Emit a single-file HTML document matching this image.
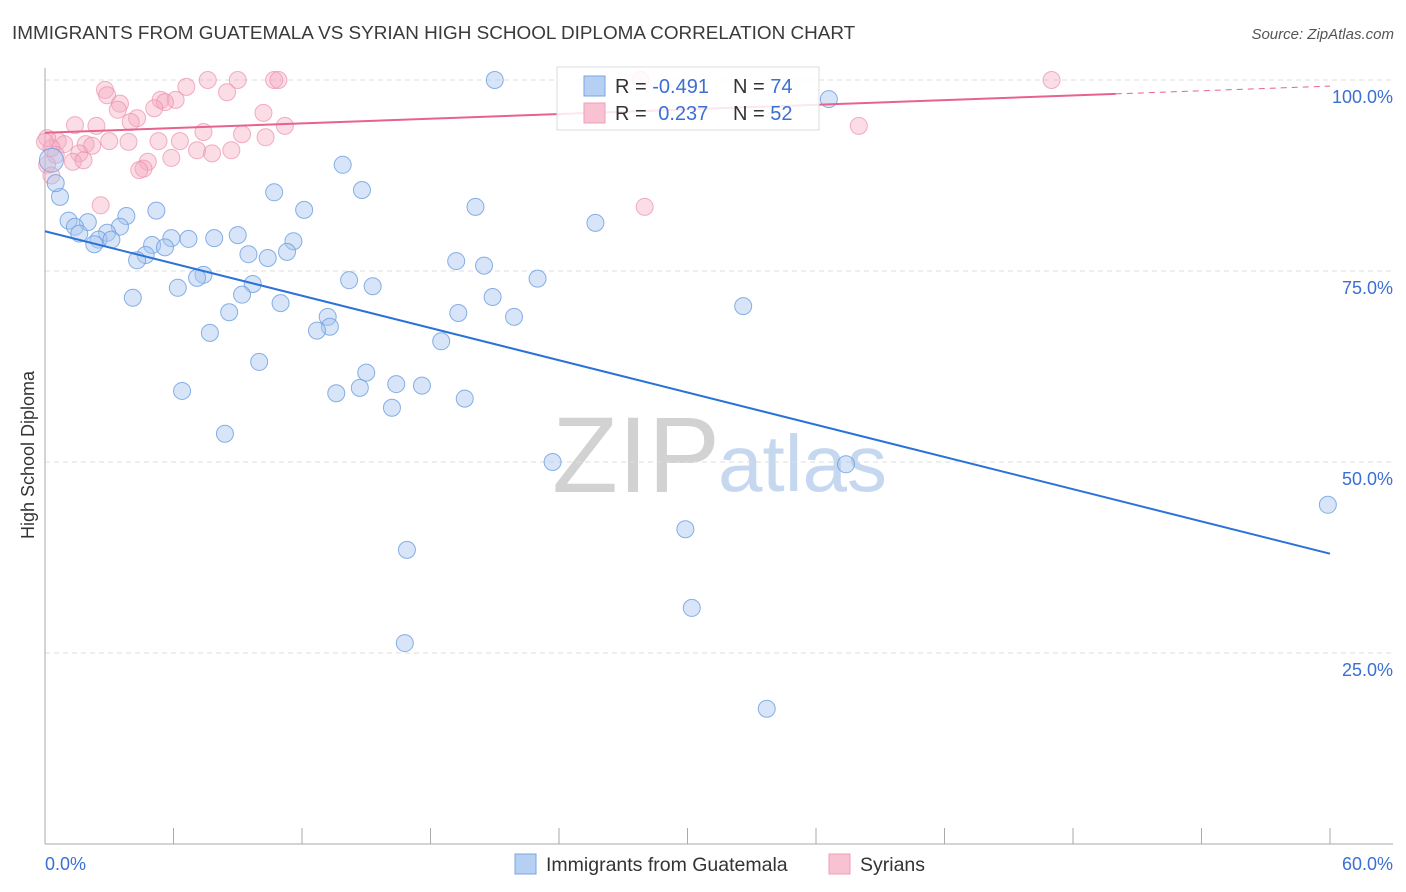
<!DOCTYPE html>
<html><head><meta charset="utf-8">
<style>
body{margin:0;background:#fff;font-family:"Liberation Sans",sans-serif;}
#wrap{position:relative;width:1406px;height:892px;overflow:hidden;}
svg text{font-family:"Liberation Sans",sans-serif;}
</style></head>
<body>
<div id="wrap">
<svg id="svg" width="1406" height="892">
<text x="12" y="39" font-size="18.9" fill="#3a3a3a">IMMIGRANTS FROM GUATEMALA VS SYRIAN HIGH SCHOOL DIPLOMA CORRELATION CHART</text>
<text x="1394" y="39" font-size="15" fill="#555" font-style="italic" text-anchor="end">Source: ZipAtlas.com</text>
<g>
<text x="552" y="492" font-size="108" font-family="Liberation Serif" fill="#d2d2d2">ZIP</text>
<text x="718" y="491" font-size="80" fill="#c5d8f0">atlas</text>
</g>
<g id="grid"></g>
<g id="axes"></g>
<g id="pinkPts"></g>
<g id="bluePts"></g>
<g id="lines"></g>
<text transform="translate(34,455) rotate(-90)" font-size="18" fill="#333" text-anchor="middle">High School Diploma</text>
<g>
<rect x="557" y="67" width="262" height="63" fill="#fff" fill-opacity="0.85" stroke="#ddd"/>
<rect x="584" y="76" width="21" height="20" fill="#b6d0f3" stroke="#7aa6e0"/>
<rect x="584" y="103" width="21" height="20" fill="#f8c2d2" stroke="#ef9fb8"/>
<text x="615" y="93" font-size="20" fill="#333">R = <tspan fill="#3b6fd4">-0.491</tspan></text>
<text x="733" y="93" font-size="20" fill="#333">N = <tspan fill="#3b6fd4">74</tspan></text>
<text x="615" y="120" font-size="20" fill="#333">R = <tspan fill="#3b6fd4" dx="6">0.237</tspan></text>
<text x="733" y="120" font-size="20" fill="#333">N = <tspan fill="#3b6fd4">52</tspan></text>
</g>
<g>
<rect x="515" y="854" width="21" height="20" fill="#b6d0f3" stroke="#7aa6e0"/>
<text x="546" y="871" font-size="19.5" fill="#333">Immigrants from Guatemala</text>
<rect x="829" y="854" width="21" height="20" fill="#f8c2d2" stroke="#ef9fb8"/>
<text x="860" y="871" font-size="19.5" fill="#333">Syrians</text>
</g>
</svg>
</div>
<script>
const xTickLabels=["0.0%","60.0%"];
const yTicks=[100,75,50,25];
const yTickLabels=["100.0%","75.0%","50.0%","25.0%"];
const blueX=[21.0,36.6,13.9,14.8,10.7,20.1,12.1,5.2,3.8,1.1,2.0,1.4,3.5,25.7,1.6,2.9,9.0,7.9,5.9,6.7,11.6,2.5,3.1,2.3,5.0,5.6,4.7,11.3,9.5,10.4,4.3,19.2,20.5,23.0,14.2,15.3,7.4,7.1,9.7,6.2,9.2,4.1,20.9,11.0,32.6,8.6,19.3,21.9,13.2,13.3,12.7,7.7,18.5,10.0,15.0,16.4,17.6,14.7,13.6,6.4,19.6,16.2,8.4,23.7,37.4,59.9,29.9,16.9,30.2,16.8,33.7,0.7,0.5,0.3];
const blueY=[100.0,97.5,88.9,85.6,85.3,83.4,83.0,82.9,82.2,81.6,81.4,80.8,80.8,81.3,79.9,80.0,79.7,79.3,79.3,79.2,78.9,79.1,79.1,78.5,78.4,78.1,77.1,77.5,77.2,76.7,76.4,76.3,75.7,74.0,73.8,73.0,74.5,74.1,73.3,72.8,71.9,71.5,71.6,70.8,70.4,69.6,69.5,69.0,69.0,67.7,67.2,66.9,65.8,63.1,61.7,60.2,60.0,59.7,59.0,59.3,58.3,57.1,53.7,50.0,49.7,44.4,41.2,38.5,30.9,26.3,17.7,84.7,86.5,89.5];
const pinkX=[27.8,47.0,7.6,9.0,10.7,10.9,6.6,2.8,2.9,8.5,5.4,6.1,5.6,3.5,5.1,3.4,10.2,4.3,1.4,2.4,4.0,11.2,7.4,9.2,38.0,10.3,3.9,5.3,6.3,1.9,2.2,0.6,0.9,0.3,1.6,3.0,7.1,7.8,8.7,5.9,4.8,1.3,1.8,4.6,4.4,28.0,2.6,0.1,0.0,0.5,0.1,0.3];
const pinkY=[100,100,100,100,100,100,99.1,98.7,98.0,98.4,97.4,97.4,97.1,96.9,96.3,96.1,95.7,95.0,94.1,94.0,94.5,94.0,93.2,92.9,94.0,92.5,91.9,92.0,92.0,91.6,91.4,92.0,91.6,91.1,90.4,92.0,90.8,90.4,90.8,89.8,89.3,89.3,89.5,88.4,88.2,83.4,83.6,92.4,91.9,90.2,88.9,87.5];
const blueTrend=[80.2,38.0];
const pinkTrend=[93.1,99.2];
const pinkSolidEnd=50;

const X0=45,X1=1330,Y0=844,Y100=80;
const sx=v=>X0+(v/60)*(X1-X0);
const sy=v=>Y0-(v/100)*(Y0-Y100);
const NS="http://www.w3.org/2000/svg";
function mk(tag,attrs,parent){const e=document.createElementNS(NS,tag);for(const k in attrs)e.setAttribute(k,attrs[k]);parent.appendChild(e);return e;}
const grid=document.getElementById('grid'),axes=document.getElementById('axes');
yTicks.forEach((t,i)=>{
  const l=mk('line',{x1:X0,x2:1393,y1:sy(t),y2:sy(t),stroke:'#ddd','stroke-dasharray':'5,4'},grid);
  
  
  const tx=mk('text',{x:1393,y:sy(t)+23,'font-size':18,fill:'#3b6fd4','text-anchor':'end'},axes);
  tx.textContent=yTickLabels[i];
  
  
});
let la=mk('line',{x1:X0,x2:X0,y1:68,y2:Y0,stroke:'#aaa'},axes);


let lb=mk('line',{x1:X0,x2:1393,y1:Y0,y2:Y0,stroke:'#aaa'},axes);


for(let v=0;v<=60;v+=6){
  const t=mk('line',{x1:sx(v),x2:sx(v),y1:Y0-16,y2:Y0,stroke:'#aaa'},axes);
  
  
}
[[0,'start',45],[60,'end',1393]].forEach((a,i)=>{
  const t=mk('text',{x:a[2],y:870,'font-size':18,fill:'#3b6fd4','text-anchor':a[1]},axes);
  t.textContent=xTickLabels[i];
  
  
});
const bp=document.getElementById('bluePts'),pp=document.getElementById('pinkPts');
pinkX.forEach((x,i)=>{
  const c=mk('circle',{cx:sx(x),cy:sy(pinkY[i]),r:8.5,fill:'#f4a9c0','fill-opacity':0.4,stroke:'#ec8fae','stroke-opacity':0.7},pp);
  
  
});
blueX.forEach((x,i)=>{
  const c=mk('circle',{cx:sx(x),cy:sy(blueY[i]),r:(i==blueX.length-1?12:8.5),fill:'#a9c6ef','fill-opacity':0.45,stroke:'#6a9ee0','stroke-opacity':0.8},bp);
  
  
});
const lines=document.getElementById('lines');
let b=mk('line',{x1:sx(0),y1:sy(blueTrend[0]),x2:sx(60),y2:sy(blueTrend[1]),stroke:'#2a72d8','stroke-width':2},lines);


const py=v=>pinkTrend[0]+(pinkTrend[1]-pinkTrend[0])*v/60;
let p=mk('line',{x1:sx(0),y1:sy(py(0)),x2:sx(pinkSolidEnd),y2:sy(py(pinkSolidEnd)),stroke:'#e8628e','stroke-width':2},lines);


let pd=mk('line',{x1:sx(pinkSolidEnd),y1:sy(py(pinkSolidEnd)),x2:sx(60),y2:sy(py(60)),stroke:'#e8628e','stroke-width':1,'stroke-dasharray':'6,5'},lines);


</script>
</body></html>
